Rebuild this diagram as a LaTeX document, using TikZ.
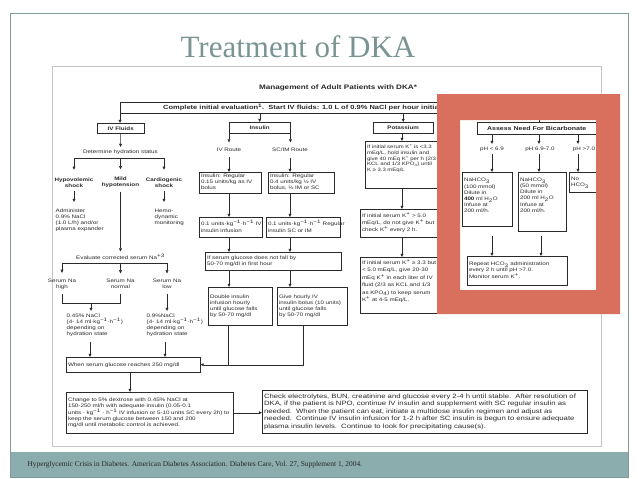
\documentclass[tikz,border=0pt]{standalone}
\usepackage{fontspec}
\setmainfont{Liberation Serif}
\newfontfamily\fa[FakeStretch=1.25]{Liberation Sans}
\usetikzlibrary{arrows.meta}
\definecolor{framec}{HTML}{7F9A9A}
\definecolor{titlec}{HTML}{7A9494}
\definecolor{footc}{HTML}{8BADAD}
\definecolor{redc}{HTML}{D9705E}
\definecolor{ink}{HTML}{2A2A2A}
\definecolor{imgc}{HTML}{C4C4C4}
\newcommand{\ft}{\fa\fontsize{5}{6.2}\selectfont}
\newcommand{\fk}{\fa\fontsize{4.8}{5.8}\selectfont}
\newcommand{\fbo}{\fa\bfseries\fontsize{5}{6.4}\selectfont}
\newcommand{\sps}[1]{\textsuperscript{#1}}
\newcommand{\sbs}[1]{\textsubscript{#1}}
\newcommand{\tl}[1]{\begin{tabular}[t]{@{}l@{}}#1\end{tabular}}
\begin{document}
\begin{tikzpicture}[x=1pt,y=-1pt,
  every node/.style={text=ink},
  bx/.style={draw=ink, line width=0.45pt, font=\ft, align=left, anchor=north west, inner xsep=1.8pt, inner ysep=1pt},
  bxb/.style={draw=ink, line width=0.45pt, font=\fbo, align=center, anchor=north west, inner sep=1pt},
  lb/.style={font=\ft, align=center, inner sep=0.5pt},
  lbb/.style={font=\fbo, align=center, inner sep=0.5pt},
  ar/.style={draw=ink, line width=0.45pt, -{Triangle[length=3.2pt,width=2.8pt]}},
  ln/.style={draw=ink, line width=0.45pt},
]
\useasboundingbox (0,0) rectangle (638,479);
\fill[white] (0,0) rectangle (638,479);

% slide frame, title, footer
\fill[footc] (10,452) rectangle (628,477);
\draw[framec, line width=0.7pt] (10,13) rectangle (628,477);
\node[font=\fontsize{31}{31}\selectfont, text=titlec] (title) at (298,47) {Treatment of DKA};
\node[font=\fontsize{7.4}{8}\selectfont, anchor=west, text=black!85] (foot) at (24,465) {Hyperglycemic Crisis in Diabetes. American Diabetes Association. Diabetes Care, Vol. 27, Supplement 1, 2004.};
\draw[imgc, line width=0.6pt] (52,66) rectangle (601,446);

% header
\node[font=\fa\bfseries\fontsize{6.5}{7.5}\selectfont] (mgmt) at (338,88) {Management of Adult Patients with DKA*};
\node[bx, minimum width=360, minimum height=11] (cie) at (120,102) {};
\node[font=\fa\bfseries\fontsize{6}{7}\selectfont, anchor=west, inner sep=0pt] (ciet) at (163,107.5) {Complete initial evaluation\sps{1}.\ \ Start IV fluids: 1.0 L of 0.9\% NaCl per hour initially.};

\node[bxb, minimum width=47, minimum height=10] (ivf) at (97,123) {IV Fluids};
\node[bxb, minimum width=61, minimum height=11] (ins) at (229,122) {Insulin};
\node[bxb, minimum width=60, minimum height=11] (pot) at (373,122) {Potassium};
\node[bxb, font=\fa\bfseries\fontsize{5.6}{6.4}\selectfont, minimum width=119, minimum height=12] (ass) at (477,122) {Assess Need For Bicarbonate};

\draw[ar] (cie.south west) -- (cie.south west |- ivf.north);
\draw[ar] (cie.south -| ins.north) -- (ins.north);
\draw[ar] (cie.south -| pot.north) -- (pot.north);
\coordinate (atop) at (539,119);
\draw[ln] (atop) -- (atop |- ass.north);

% ---------- IV fluids ----------
\node[lb] (dhs) at (120.5,152) {Determine hydration status};
\draw[ar, shorten >=2] (ivf.south) -- (dhs.north);
\coordinate (h1) at (74,158);
\coordinate (h2) at (164,158);
\draw[ln] (h1) -- (h2);
\node[lbb] (hyp) at (74,182.5) {Hypovolemic\\shock};
\node[lbb] (mild) at (120.5,182.5) {Mild\\hypotension};
\node[lbb] (card) at (164,182.5) {Cardiogenic\\shock};
\draw[ar, shorten >=7] (h1) -- (hyp.north);
\draw[ar, shorten >=7] (h1 -| mild.north) -- (mild.north);
\draw[ar, shorten >=7] (h2) -- (card.north);
\node[lb, anchor=north west, align=left] (adm) at (55,208) {Administer\\0.9\% NaCl\\(1.0 L/h) and/or\\plasma expander};
\node[lb, anchor=north west, align=left] (hemo) at (154,208) {Hemo-\\dynamic\\monitoring};
\draw[ar, shorten <=3, shorten >=6] (hyp.south) -- (hyp.south |- adm.north);
\draw[ar, shorten <=3, shorten >=6] (card.south) -- (card.south |- hemo.north);
\node[lb] (evn) at (120.5,257) {Evaluate corrected serum Na\sps{+3}};
\draw[ar, shorten <=3, shorten >=2] (mild.south) -- (evn.north);
\coordinate (h3) at (62,263);
\coordinate (h4) at (167,263);
\draw[ln] (h3) -- (h4);
\node[lb] (snh) at (62,284) {Serum Na\\high};
\node[lb] (snn) at (120.5,284) {Serum Na\\normal};
\node[lb] (snl) at (167,284) {Serum Na\\low};
\draw[ar, shorten >=5] (h3) -- (snh.north);
\draw[ar, shorten >=5] (h3 -| snn.north) -- (snn.north);
\draw[ar, shorten >=5] (h4) -- (snl.north);
\coordinate (bkm) at (91,303);
\draw[ln, shorten <=4] (snh.south) |- (bkm);
\draw[ln, shorten <=4] (snn.south) |- (bkm);
\node[lb, anchor=north west, align=left] (n045) at (66,313) {0.45\% NaCl\\(4- 14 ml·kg\sps{−1}·h\sps{−1})\\depending on\\hydration state};
\draw[ar, shorten >=2] (bkm) -- (bkm |- n045.north);
\node[lb, anchor=north west, align=left] (n09) at (146,313) {0.9\%NaCl\\(4- 14 ml·kg\sps{−1}·h\sps{−1})\\depending on\\hydration state};
\draw[ar, shorten <=4, shorten >=2] (snl.south) -- (snl.south |- n09.north);

\node[bx, text width=130.4, minimum height=15] (when) at (66,357) {When serum glucose reaches 250 mg/dl};
\coordinate (x90) at (90,0);
\coordinate (x165) at (165,0);
\draw[ar, shorten <=4] (n045.south -| x90) -- (when.north -| x90);
\draw[ar, shorten <=4] (n09.south -| x165) -- (when.north -| x165);

\node[bx, text width=163.4, minimum height=41] (chg) at (66,392) {\tl{Change to 5\% dextrose with 0.45\% NaCl at\\150-250 ml/h with adequate insulin (0.05-0.1\\units · kg\sps{−1} · h\sps{−1} IV infusion or 5-10 units SC every 2h) to\\keep the serum glucose between 150 and 200\\mg/dl until metabolic control is achieved.}};
\coordinate (x130) at (130,0);
\draw[ar] (when.south -| x130) -- (chg.north -| x130);
\node[bx, font=\fa\fontsize{6.2}{7.6}\selectfont, text width=321.4, minimum height=43] (chk) at (262,390) {\tl{Check electrolytes, BUN, creatinine and glucose every 2-4 h until stable.\ \ After resolution of\\DKA, if the patient is NPO, continue IV insulin and supplement with SC regular insulin as\\needed.\ \ When the patient can eat, initiate a multidose insulin regimen and adjust as\\needed.\ \ Continue IV insulin infusion for 1-2 h after SC insulin is begun to ensure adequate\\plasma insulin levels.\ \ Continue to look for precipitating cause(s).}};
\draw[ar] (chg.east) -- (chg.east -| chk.west);

% ---------- Insulin ----------
\node[lb] (ivr) at (229,150) {IV Route};
\node[lb] (scr) at (290,150) {SC/IM Route};
\draw[ar, shorten >=5] (ins.south west) -- (ins.south west |- ivr.north);
\draw[ar, shorten >=5] (ins.south east) -- (ins.south east |- scr.north);
\coordinate (cA) at (229,0);
\coordinate (cB) at (290,0);
\node[bx, text width=58.4, minimum height=18] (reg1) at (199,172) {\tl{Insulin: Regular\\0.15 units/kg as IV\\bolus}};
\node[bx, text width=62.4, minimum height=18] (reg2) at (268,172) {\tl{Insulin: Regular\\0.4 units/kg ½ IV\\bolus, ½ IM or SC}};
\draw[ar, shorten <=5] (ivr.south) -- (reg1.north -| cA);
\draw[ar, shorten <=5] (scr.south) -- (reg2.north -| cB);
\node[bx, text width=59.4, minimum height=20] (inf1) at (199,217) {\tl{0.1 units·kg\sps{−1}·h\sps{−1} IV\\insulin infusion}};
\node[bx, text width=70.4, minimum height=20] (inf2) at (266,217) {\tl{0.1 units·kg\sps{−1}·h\sps{−1} Regular\\insulin SC or IM}};
\draw[ar] (reg1.south -| cA) -- (inf1.north -| cA);
\draw[ar] (reg2.south -| cB) -- (inf2.north -| cB);
\node[bx, text width=132.4, minimum height=18] (ifs) at (205,252) {\tl{If serum glucose does not fall by\\50-70 mg/dl in first hour}};
\draw[ar] (inf1.south -| cA) -- (ifs.north -| cA);
\draw[ar] (inf2.south -| cB) -- (ifs.north -| cB);
\node[bx, text width=60.4, minimum height=38] (dbl) at (208,287) {\tl{Double insulin\\infusion hourly\\until glucose falls\\by 50-70 mg/dl}};
\node[bx, text width=66.4, minimum height=38] (give) at (277,287) {\tl{Give hourly IV\\insulin bolus (10 units)\\until glucose falls\\by 50-70 mg/dl}};
\draw[ar] (ifs.south -| cA) -- (dbl.north -| cA);
\draw[ar] (ifs.south -| cB) -- (give.north -| cB);
\coordinate (x228) at (228,0);
\coordinate (x303) at (303,0);
\draw[ln] (dbl.south -| x228) -- (when.east -| x228);
\draw[ar] (give.south -| x303) |- (when.east);

% ---------- Potassium ----------
\coordinate (cK) at (402,0);
\node[bx, font=\fk, text width=76.4, minimum height=47] (k1) at (365,141) {\tl{If initial serum K\sps{+} is <3.3\\mEq/L, hold insulin and\\give 40 mEq K\sps{+} per h (2/3\\KCL and 1/3 KPO\sbs{4}) until\\K ≥ 3.3 mEq/L\\~\\~}};
\draw[ar] (pot.south -| cK) -- (k1.north -| cK);
\node[bx, text width=81.4, minimum height=28] (k2) at (360,209) {\tl{If initial serum K\sps{+} > 5.0\\mEq/L, do not give K\sps{+} but\\check K\sps{+} every 2 h.}};
\draw[ar] (k1.south -| cK) -- (k2.north -| cK);
\node[bx, font=\fa\fontsize{5}{7.4}\selectfont, text width=81.4, minimum height=56] (k3) at (360,257) {\tl{If initial serum K\sps{+} ≥ 3.3 but\\< 5.0 mEq/L, give 20-30\\mEq K\sps{+} in each liter of IV\\fluid (2/3 as KCL and 1/3\\as KPO\sbs{4}) to keep serum\\K\sps{+} at 4-5 mEq/L.\\~}};
\draw[ar] (k2.south -| cK) -- (k3.north -| cK);

% ---------- Bicarbonate ----------
\coordinate (c1) at (492,0);
\coordinate (c2) at (539,0);
\coordinate (c3) at (578,0);
\node[lb] (ph1) at (492,149) {pH < 6.9};
\node[lb] (ph2) at (540,149) {pH 6.9-7.0};
\node[lb] (ph3) at (584,149) {pH >7.0};
\draw[ar, shorten >=2] (ass.south -| c1) -- (ph1.north -| c1);
\draw[ar, shorten >=2] (ass.south -| c2) -- (ph2.north -| c2);
\draw[ar, shorten >=2] (ass.south -| c3) -- (ph3.north -| c3);
\node[bx, text width=46.4, minimum height=54] (b1) at (462,172) {\tl{NaHCO\sbs{3}\\(100 mmol)\\Dilute in\\\textbf{400} ml H\sbs{2}O\\Infuse at\\200 ml/h.\\~}};
\node[bx, text width=44.4, minimum height=59] (b2) at (518,172) {\tl{NaHCO\sbs{3}\\(50 mmol)\\Dilute in\\200 ml H\sbs{2}O\\Infuse at\\200 ml/h.\\~\\~}};
\node[bx, text width=27.4, minimum height=20] (b3) at (569,172) {\tl{No\\HCO\sbs{3}}};
\draw[ar, shorten <=2] (ph1.south -| c1) -- (b1.north -| c1);
\draw[ar, shorten <=2] (ph2.south -| c2) -- (b2.north -| c2);
\draw[ar, shorten <=2] (ph3.south -| c3) -- (b3.north -| c3);
\node[bx, font=\fa\fontsize{5}{6.7}\selectfont, text width=96.4, minimum height=29] (rep) at (467,256) {\tl{Repeat HCO\sbs{3} administration\\every 2 h until pH >7.0.\\Monitor serum K\sps{+}.}};
\coordinate (r1) at (492,236);
\coordinate (r2) at (541,236);
\draw[ar] (r1) -- (r1 |- rep.north);
\draw[ar] (r2) -- (r2 |- rep.north);

% red highlight frame
\fill[redc, even odd rule] (437,94) rectangle (620,314) (460,120) rectangle (596,290);
\end{tikzpicture}
\end{document}
